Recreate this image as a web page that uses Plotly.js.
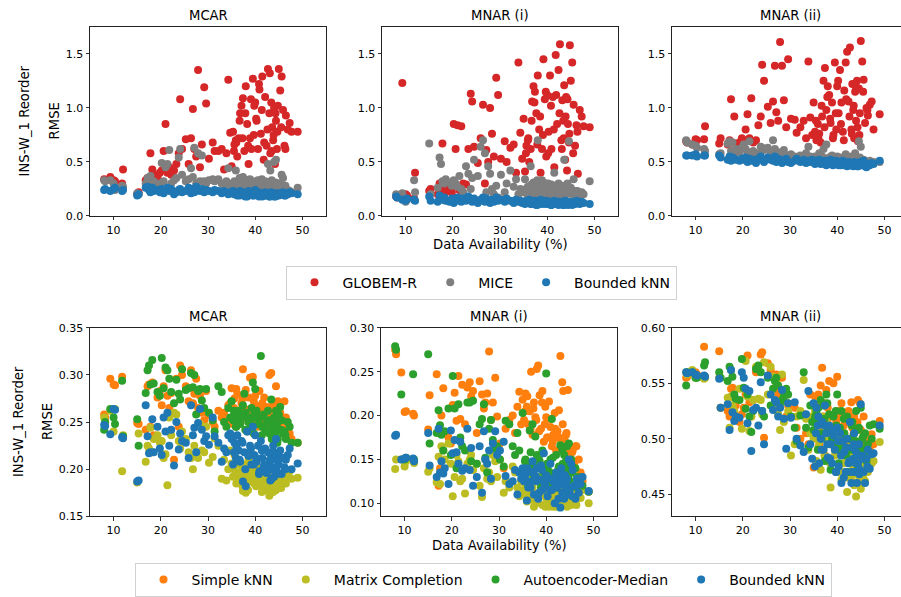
<!DOCTYPE html>
<html>
<head>
<meta charset="utf-8">
<script src="https://cdn.plot.ly/plotly-3.0.1.min.js"></script>
<style>
html,body{margin:0;padding:0;overflow:hidden;background:#fff;}
#chart{width:920px;height:597px;}
</style>
</head>
<body>
<div id="chart"></div>
<script>
// ---------- DATA ----------
const avail = [
  8.0, 8.2, 9.3, 10.0, 10.3, 11.8, 12.0,
  15.0, 15.3, 16.8, 17.2, 17.5, 17.8, 18.2, 18.5, 19.3, 19.8,
  20.2, 20.6, 21.0, 21.4, 21.8, 22.2, 22.8, 23.3, 23.8, 24.1, 24.5,
  25.3, 25.9, 26.4, 26.8, 27.1, 27.5, 27.9, 28.3, 28.7, 29.2, 29.6,
  30.2, 31.0, 31.4, 32.2, 32.9, 33.4, 33.9, 34.3, 34.7,
  35.0, 35.3, 35.6, 35.9, 36.2, 36.5, 36.8, 37.1, 37.4, 37.7, 38.0, 38.3, 38.6, 38.9, 39.2, 39.5, 39.8,
  40.0, 40.3, 40.6, 40.9, 41.2, 41.5, 41.8, 42.1, 42.4, 42.7, 43.0, 43.2, 43.4, 43.6, 43.8, 44.0, 44.2, 44.4, 44.6, 44.8,
  45.0, 45.3, 45.6, 45.9, 46.2, 46.5, 46.9, 47.3, 47.7, 49.0,
  35.5, 36.0, 36.7, 37.3, 37.9, 38.5, 39.1, 39.7, 40.2, 40.8, 41.4, 41.9, 42.6, 43.1, 43.5, 43.9, 44.3, 44.7, 45.5, 46.4
];

const panelTitles = ["MCAR", "MNAR (i)", "MNAR (ii)"];
const topMethods = ["GLOBEM-R", "MICE", "Bounded kNN"];
const botMethods = ["Simple kNN", "Matrix Completion", "Autoencoder-Median", "Bounded kNN"];

// Top row: MCAR
const topMcarGlobem = [
  0.34, 0.33, 0.36, 0.33, 0.32, 0.30, 0.43,
  0.20, 0.22, 0.33, 0.35, 0.30, 0.58, 0.43, 0.38, 0.36, 0.40,
  0.42, 0.60, 0.85, 0.40, 0.45, 0.38, 0.42, 0.48, 0.58, 1.08, 0.62,
  0.71, 0.48, 0.72, 0.99, 0.62, 0.55, 1.35, 0.45, 0.66, 1.19, 1.04,
  0.53, 0.68, 0.60, 0.60, 0.62, 0.43, 0.58, 1.26, 0.77,
  0.46, 0.78, 0.66, 0.70, 0.55, 0.72, 0.95, 1.02, 1.09, 0.60, 1.20, 0.85, 0.48, 0.72, 0.62, 1.27, 1.02,
  1.05, 0.88, 0.62, 1.17, 0.76, 1.29, 0.52, 1.10, 0.65, 1.36, 0.95, 0.58, 1.05, 0.82, 0.70, 1.00, 0.48, 0.88, 0.62, 1.02,
  1.36, 1.16, 1.29, 0.98, 0.65, 0.93, 0.80, 0.86, 0.78, 0.78,
  0.60, 0.68, 0.88, 0.72, 0.95, 0.65, 1.08, 0.75, 0.90, 1.22, 0.98, 0.68, 0.80, 1.32, 0.60, 0.75, 0.95, 0.78, 0.82, 0.62
];
const topMcarMice = [
  0.33, 0.32, 0.33, 0.30, 0.24, 0.28, 0.27,
  0.21, 0.20, 0.30, 0.35, 0.30, 0.37, 0.28, 0.32, 0.28, 0.30,
  0.49, 0.32, 0.45, 0.48, 0.61, 0.30, 0.33, 0.35, 0.54, 0.62, 0.38,
  0.32, 0.34, 0.44, 0.36, 0.63, 0.30, 0.58, 0.32, 0.56, 0.32, 0.30,
  0.33, 0.34, 0.32, 0.34, 0.30, 0.28, 0.32, 0.44, 0.29,
  0.27, 0.30, 0.32, 0.42, 0.28, 0.31, 0.26, 0.33, 0.36, 0.29, 0.33, 0.27, 0.30, 0.34, 0.28, 0.31, 0.27,
  0.30, 0.26, 0.33, 0.28, 0.31, 0.27, 0.29, 0.32, 0.26, 0.48, 0.29, 0.42, 0.27, 0.31, 0.26, 0.50, 0.29, 0.52, 0.27, 0.30,
  0.26, 0.30, 0.38, 0.35, 0.27, 0.25, 0.24, 0.23, 0.22, 0.26,
  0.31, 0.28, 0.35, 0.30, 0.27, 0.33, 0.29, 0.26, 0.32, 0.28, 0.34, 0.27, 0.30, 0.28, 0.33, 0.27, 0.31, 0.29, 0.26, 0.28
];
const topMcarBknn = [
  0.24, 0.25, 0.23, 0.25, 0.26, 0.23, 0.24,
  0.19, 0.20, 0.26, 0.27, 0.24, 0.22, 0.26, 0.23, 0.24, 0.22,
  0.25, 0.21, 0.24, 0.26, 0.23, 0.25, 0.20, 0.22, 0.24, 0.25, 0.22,
  0.23, 0.26, 0.21, 0.25, 0.22, 0.27, 0.24, 0.23, 0.25, 0.22, 0.24,
  0.23, 0.22, 0.24, 0.23, 0.21, 0.23, 0.22, 0.20, 0.22,
  0.21, 0.23, 0.20, 0.22, 0.19, 0.21, 0.23, 0.20, 0.22, 0.19, 0.21, 0.18, 0.23, 0.20, 0.22, 0.19, 0.21,
  0.24, 0.20, 0.22, 0.19, 0.21, 0.18, 0.20, 0.22, 0.19, 0.21, 0.18, 0.20, 0.22, 0.19, 0.21, 0.18, 0.20, 0.19, 0.21, 0.20,
  0.19, 0.21, 0.20, 0.22, 0.19, 0.21, 0.20, 0.22, 0.21, 0.20,
  0.22, 0.20, 0.19, 0.21, 0.18, 0.20, 0.22, 0.19, 0.21, 0.18, 0.20, 0.19, 0.21, 0.18, 0.20, 0.19, 0.18, 0.20, 0.21, 0.19
];

// Top row: MNAR (i)
const topMnar1Globem = [
  0.18, 0.17, 1.23, 0.20, 0.19, 0.16, 0.40,
  0.23, 0.25, 0.20, 0.30, 0.25, 0.67, 0.28, 0.22, 0.25, 0.22,
  0.85, 0.62, 0.84, 0.24, 0.83, 0.30, 0.29, 0.62, 1.13, 1.06, 0.64,
  0.49, 0.72, 1.03, 0.30, 0.61, 0.50, 1.00, 0.76, 0.55, 1.28, 1.12,
  0.53, 0.69, 0.50, 0.63, 0.66, 0.40, 1.42, 0.77, 0.53,
  0.90, 0.41, 0.65, 0.70, 0.50, 0.62, 1.06, 1.20, 1.15, 0.95, 1.30, 0.80, 0.40, 0.62, 1.45, 1.08, 0.55,
  1.12, 0.78, 1.30, 0.62, 1.10, 0.45, 1.49, 0.85, 1.35, 1.59, 0.70, 1.07, 0.88, 1.21, 0.52, 1.10, 0.42, 0.85, 0.68, 1.58,
  1.25, 1.42, 1.03, 0.65, 0.84, 0.39, 0.98, 0.92, 0.83, 0.82,
  0.58, 0.72, 0.88, 1.05, 0.66, 0.92, 0.75, 1.15, 0.58, 1.02, 0.80, 1.12, 0.95, 0.62, 0.72, 0.92, 1.08, 0.76, 0.58, 0.78
];
const topMnar1Mice = [
  0.20, 0.18, 0.21, 0.13, 0.15, 0.33, 0.22,
  0.67, 0.20, 0.26, 0.54, 0.48, 0.32, 0.30, 0.34, 0.31, 0.28,
  0.33, 0.30, 0.27, 0.37, 0.25, 0.22, 0.46, 0.39, 0.25, 0.35, 0.52,
  0.37, 0.64, 0.70, 0.58, 0.22, 0.46, 0.39, 0.25, 0.20, 0.28, 0.17,
  0.38, 0.22, 0.30, 0.42, 0.27, 0.34, 0.20, 0.25, 0.24,
  0.22, 0.34, 0.21, 0.27, 0.19, 0.46, 0.24, 0.31, 0.20, 0.26, 0.70, 0.22, 0.28, 0.33, 0.19, 0.25, 0.30,
  0.22, 0.27, 0.20, 0.29, 0.24, 0.40, 0.21, 0.26, 0.30, 0.19, 0.23, 0.28, 0.22, 0.52, 0.25, 0.20, 0.27, 0.21, 0.69, 0.24,
  0.26, 0.20, 0.34, 0.23, 0.18, 0.21, 0.19, 0.22, 0.20, 0.32,
  0.25, 0.18, 0.29, 0.22, 0.33, 0.20, 0.27, 0.24, 0.30, 0.21, 0.26, 0.23, 0.28, 0.19, 0.25, 0.22, 0.30, 0.26, 0.20, 0.23
];
const topMnar1Bknn = [
  0.18, 0.17, 0.15, 0.14, 0.16, 0.15, 0.14,
  0.18, 0.14, 0.13, 0.19, 0.16, 0.15, 0.17, 0.14, 0.13, 0.16,
  0.12, 0.15, 0.17, 0.14, 0.13, 0.16, 0.14, 0.18, 0.15, 0.13, 0.16,
  0.12, 0.15, 0.17, 0.13, 0.16, 0.14, 0.12, 0.15, 0.13, 0.17, 0.14,
  0.15, 0.13, 0.16, 0.14, 0.12, 0.15, 0.13, 0.14, 0.12,
  0.13, 0.11, 0.14, 0.12, 0.15, 0.11, 0.13, 0.12, 0.14, 0.10, 0.13, 0.12, 0.15, 0.11, 0.13, 0.12, 0.14,
  0.12, 0.11, 0.13, 0.10, 0.12, 0.14, 0.11, 0.13, 0.10, 0.12, 0.11, 0.13, 0.10, 0.12, 0.14, 0.11, 0.12, 0.10, 0.13, 0.11,
  0.12, 0.10, 0.13, 0.11, 0.14, 0.12, 0.11, 0.13, 0.12, 0.11,
  0.12, 0.14, 0.11, 0.13, 0.10, 0.12, 0.14, 0.11, 0.13, 0.10, 0.12, 0.11, 0.13, 0.12, 0.10, 0.11, 0.13, 0.12, 0.11, 0.12
];

// Top row: MNAR (ii)
const topMnar2Globem = [
  0.69, 0.68, 0.66, 0.71, 0.70, 0.71, 0.83,
  0.67, 0.72, 0.66, 0.70, 1.08, 0.68, 0.92, 0.67, 0.68, 0.72,
  0.70, 0.80, 0.94, 0.72, 1.09, 0.68, 0.70, 0.84, 0.92, 1.40, 1.25,
  1.01, 0.86, 1.06, 1.39, 0.96, 0.88, 1.61, 1.39, 1.07, 0.82, 1.45,
  0.90, 0.89, 0.77, 0.82, 0.88, 0.72, 1.43, 0.91, 0.75,
  1.05, 0.78, 0.70, 0.85, 0.76, 0.68, 0.92, 1.25, 1.37, 0.98, 1.20, 1.12, 0.86, 1.05, 0.75, 1.42, 0.80,
  1.20, 0.95, 1.35, 1.05, 0.78, 1.16, 1.42, 1.52, 1.06, 1.56, 0.80, 1.22, 0.98, 0.72, 1.15, 0.88, 1.25, 0.69, 1.18, 0.95,
  1.62, 1.43, 1.26, 0.86, 1.00, 0.93, 1.03, 1.06, 0.80, 0.94,
  0.88, 0.72, 1.02, 0.82, 1.10, 0.90, 0.72, 0.95, 1.25, 0.85, 0.70, 1.08, 0.92, 0.76, 1.02, 1.20, 0.82, 0.75, 1.15, 0.98
];
const topMnar2Mice = [
  0.70, 0.68, 0.66, 0.65, 0.63, 0.62, 0.60,
  0.57, 0.58, 0.67, 0.69, 0.60, 0.68, 0.58, 0.62, 0.59, 0.63,
  0.66, 0.62, 0.59, 0.69, 0.57, 0.60, 0.55, 0.58, 0.64, 0.63, 0.61,
  0.63, 0.57, 0.70, 0.62, 0.56, 0.59, 0.55, 0.58, 0.61, 0.56, 0.54,
  0.57, 0.55, 0.53, 0.56, 0.52, 0.58, 0.64, 0.55, 0.53,
  0.52, 0.55, 0.50, 0.54, 0.58, 0.51, 0.55, 0.62, 0.53, 0.66, 0.50, 0.54, 0.52, 0.56, 0.51, 0.53, 0.50,
  0.55, 0.49, 0.52, 0.54, 0.50, 0.53, 0.57, 0.49, 0.52, 0.51, 0.55, 0.48, 0.53, 0.50, 0.58, 0.49, 0.52, 0.50, 0.69, 0.54,
  0.64, 0.49, 0.52, 0.47, 0.50, 0.48, 0.51, 0.49, 0.50, 0.50,
  0.53, 0.51, 0.55, 0.50, 0.52, 0.54, 0.49, 0.51, 0.53, 0.50, 0.52, 0.49, 0.51, 0.48, 0.53, 0.50, 0.52, 0.48, 0.50, 0.49
];
const topMnar2Bknn = [
  0.56, 0.56, 0.56, 0.57, 0.55, 0.56, 0.56,
  0.56, 0.54, 0.52, 0.55, 0.51, 0.54, 0.53, 0.52, 0.51, 0.53,
  0.52, 0.54, 0.50, 0.53, 0.51, 0.52, 0.49, 0.53, 0.55, 0.52, 0.50,
  0.54, 0.52, 0.51, 0.55, 0.50, 0.53, 0.52, 0.49, 0.51, 0.53, 0.50,
  0.49, 0.51, 0.53, 0.50, 0.52, 0.49, 0.51, 0.50, 0.52,
  0.50, 0.48, 0.51, 0.49, 0.52, 0.48, 0.50, 0.49, 0.51, 0.47, 0.50, 0.48, 0.52, 0.49, 0.50, 0.48, 0.51,
  0.49, 0.47, 0.50, 0.48, 0.51, 0.47, 0.49, 0.46, 0.50, 0.48, 0.47, 0.49, 0.46, 0.50, 0.48, 0.47, 0.49, 0.46, 0.48, 0.50,
  0.47, 0.49, 0.51, 0.46, 0.45, 0.48, 0.47, 0.49, 0.48, 0.51,
  0.50, 0.49, 0.51, 0.48, 0.50, 0.49, 0.47, 0.50, 0.48, 0.47, 0.49, 0.48, 0.47, 0.49, 0.47, 0.48, 0.46, 0.49, 0.47, 0.48
];

// Bottom row: MCAR
const botMcarSimple = [
  0.258, 0.255, 0.296, 0.290, 0.289, 0.298, 0.234,
  0.249, 0.248, 0.242, 0.288, 0.290, 0.245, 0.292, 0.236, 0.276, 0.283,
  0.268, 0.288, 0.305, 0.278, 0.265, 0.281, 0.210, 0.296, 0.245, 0.310, 0.300,
  0.288, 0.272, 0.305, 0.270, 0.280, 0.296, 0.265, 0.278, 0.260, 0.252, 0.283,
  0.257, 0.250, 0.245, 0.262, 0.255, 0.260, 0.252, 0.268, 0.270,
  0.286, 0.248, 0.275, 0.258, 0.280, 0.262, 0.250, 0.270, 0.306, 0.255, 0.284, 0.263, 0.276, 0.297, 0.260, 0.298, 0.252,
  0.278, 0.267, 0.255, 0.283, 0.262, 0.270, 0.250, 0.258, 0.266, 0.245, 0.300, 0.255, 0.302, 0.268, 0.250, 0.262, 0.243, 0.288, 0.255, 0.272,
  0.244, 0.260, 0.250, 0.242, 0.272, 0.255, 0.246, 0.238, 0.232, 0.228,
  0.265, 0.285, 0.252, 0.275, 0.262, 0.258, 0.248, 0.272, 0.255, 0.245, 0.262, 0.276, 0.252, 0.240, 0.258, 0.248, 0.265, 0.242, 0.255, 0.238
];
const botMcarMatrix = [
  0.255, 0.250, 0.262, 0.240, 0.264, 0.198, 0.236,
  0.186, 0.238, 0.208, 0.225, 0.222, 0.244, 0.218, 0.232, 0.236, 0.228,
  0.230, 0.212, 0.216, 0.183, 0.255, 0.236, 0.260, 0.258, 0.230, 0.222, 0.240,
  0.232, 0.218, 0.212, 0.200, 0.225, 0.215, 0.212, 0.248, 0.220, 0.218, 0.245,
  0.207, 0.213, 0.233, 0.225, 0.190, 0.210, 0.188, 0.200, 0.220,
  0.206, 0.192, 0.215, 0.195, 0.210, 0.190, 0.205, 0.198, 0.177, 0.205, 0.175, 0.195, 0.210, 0.187, 0.200, 0.192, 0.185,
  0.195, 0.203, 0.188, 0.200, 0.193, 0.182, 0.198, 0.178, 0.190, 0.185, 0.172, 0.195, 0.180, 0.188, 0.176, 0.198, 0.185, 0.178, 0.190, 0.182,
  0.192, 0.186, 0.195, 0.188, 0.190, 0.185, 0.192, 0.198, 0.190, 0.191,
  0.200, 0.185, 0.195, 0.182, 0.190, 0.178, 0.195, 0.188, 0.182, 0.192, 0.176, 0.186, 0.180, 0.174, 0.190, 0.182, 0.178, 0.186, 0.180, 0.188
];
const botMcarAutoenc = [
  0.242, 0.250, 0.264, 0.255, 0.248, 0.294, 0.235,
  0.253, 0.225, 0.281, 0.305, 0.310, 0.290, 0.316, 0.291, 0.282, 0.278,
  0.318, 0.286, 0.308, 0.305, 0.296, 0.282, 0.270, 0.295, 0.280, 0.274, 0.306,
  0.284, 0.286, 0.302, 0.287, 0.300, 0.258, 0.283, 0.285, 0.273, 0.265, 0.285,
  0.260, 0.252, 0.240, 0.288, 0.282, 0.250, 0.245, 0.265, 0.255,
  0.272, 0.252, 0.260, 0.245, 0.258, 0.262, 0.248, 0.255, 0.268, 0.280, 0.260, 0.240, 0.255, 0.250, 0.265, 0.292, 0.258,
  0.285, 0.262, 0.248, 0.255, 0.320, 0.245, 0.258, 0.242, 0.252, 0.262, 0.238, 0.250, 0.274, 0.245, 0.235, 0.255, 0.240, 0.262, 0.248, 0.232,
  0.258, 0.266, 0.252, 0.238, 0.240, 0.232, 0.250, 0.245, 0.228, 0.228,
  0.262, 0.245, 0.252, 0.258, 0.242, 0.250, 0.246, 0.238, 0.255, 0.248, 0.236, 0.245, 0.240, 0.252, 0.232, 0.244, 0.238, 0.228, 0.242, 0.236
];
const botMcarBknn = [
  0.247, 0.246, 0.237, 0.264, 0.263, 0.234, 0.233,
  0.187, 0.188, 0.268, 0.235, 0.217, 0.218, 0.253, 0.218, 0.245, 0.222,
  0.215, 0.255, 0.240, 0.260, 0.225, 0.242, 0.204, 0.250, 0.221, 0.238, 0.230,
  0.228, 0.212, 0.268, 0.236, 0.244, 0.218, 0.249, 0.264, 0.242, 0.230, 0.235,
  0.226, 0.255, 0.235, 0.228, 0.208, 0.222, 0.218, 0.236, 0.238,
  0.232, 0.205, 0.228, 0.212, 0.236, 0.220, 0.208, 0.230, 0.187, 0.218, 0.182, 0.240, 0.214, 0.225, 0.205, 0.245, 0.215,
  0.236, 0.208, 0.225, 0.198, 0.230, 0.212, 0.202, 0.222, 0.196, 0.218, 0.205, 0.188, 0.215, 0.200, 0.225, 0.192, 0.210, 0.232, 0.198, 0.215,
  0.205, 0.220, 0.195, 0.212, 0.202, 0.210, 0.215, 0.222, 0.200, 0.206,
  0.218, 0.225, 0.210, 0.228, 0.200, 0.215, 0.222, 0.205, 0.212, 0.195, 0.220, 0.205, 0.198, 0.210, 0.190, 0.218, 0.202, 0.195, 0.212, 0.200
];

// Bottom row: MNAR (i)
const botMnar1Simple = [
  0.275, 0.270, 0.249, 0.204, 0.205, 0.202, 0.200,
  0.184, 0.223, 0.247, 0.120, 0.140, 0.200, 0.231, 0.180, 0.175, 0.168,
  0.212, 0.226, 0.194, 0.245, 0.196, 0.235, 0.190, 0.232, 0.238, 0.222, 0.228,
  0.180, 0.239, 0.224, 0.208, 0.215, 0.225, 0.273, 0.195, 0.215, 0.243, 0.199,
  0.168, 0.140, 0.185, 0.195, 0.200, 0.180, 0.210, 0.227, 0.190,
  0.218, 0.195, 0.225, 0.210, 0.190, 0.205, 0.250, 0.178, 0.215, 0.198, 0.253, 0.257, 0.223, 0.185, 0.228, 0.170, 0.210,
  0.198, 0.175, 0.216, 0.187, 0.165, 0.178, 0.203, 0.160, 0.182, 0.206, 0.268, 0.170, 0.238, 0.228, 0.175, 0.160, 0.178, 0.158, 0.229, 0.165,
  0.165, 0.150, 0.160, 0.145, 0.165, 0.130, 0.150, 0.135, 0.125, 0.113,
  0.205, 0.222, 0.185, 0.208, 0.195, 0.182, 0.215, 0.190, 0.175, 0.196, 0.170, 0.185, 0.175, 0.162, 0.190, 0.172, 0.180, 0.165, 0.158, 0.165
];
const botMnar1Matrix = [
  0.139, 0.150, 0.150, 0.142, 0.148, 0.150, 0.146,
  0.136, 0.140, 0.124, 0.153, 0.122, 0.165, 0.160, 0.150, 0.168, 0.145,
  0.108, 0.130, 0.155, 0.148, 0.125, 0.128, 0.111, 0.145, 0.150, 0.155, 0.138,
  0.145, 0.120, 0.107, 0.140, 0.150, 0.128, 0.135, 0.125, 0.155, 0.148, 0.130,
  0.150, 0.112, 0.125, 0.118, 0.142, 0.135, 0.118, 0.108, 0.125,
  0.130, 0.115, 0.120, 0.102, 0.112, 0.128, 0.108, 0.118, 0.096, 0.125, 0.105, 0.130, 0.110, 0.120, 0.098, 0.115, 0.096,
  0.106, 0.118, 0.096, 0.125, 0.102, 0.110, 0.120, 0.096, 0.108, 0.115, 0.098, 0.112, 0.103, 0.120, 0.098, 0.108, 0.102, 0.096, 0.112, 0.105,
  0.110, 0.098, 0.115, 0.104, 0.120, 0.108, 0.112, 0.106, 0.115, 0.100,
  0.110, 0.118, 0.104, 0.112, 0.100, 0.108, 0.115, 0.098, 0.110, 0.104, 0.096, 0.106, 0.112, 0.100, 0.104, 0.098, 0.108, 0.102, 0.110, 0.098
];
const botMnar1Autoenc = [
  0.279, 0.275, 0.224, 0.150, 0.152, 0.247, 0.150,
  0.270, 0.168, 0.180, 0.206, 0.189, 0.178, 0.160, 0.182, 0.208, 0.155,
  0.245, 0.208, 0.140, 0.213, 0.175, 0.165, 0.160, 0.215, 0.215, 0.148, 0.217,
  0.145, 0.190, 0.196, 0.213, 0.152, 0.135, 0.185, 0.195, 0.172, 0.162, 0.165,
  0.150, 0.142, 0.194, 0.190, 0.165, 0.155, 0.180, 0.160, 0.135,
  0.203, 0.128, 0.150, 0.140, 0.120, 0.183, 0.145, 0.190, 0.132, 0.176, 0.155, 0.125, 0.148, 0.118, 0.160, 0.135, 0.128,
  0.248, 0.140, 0.120, 0.150, 0.196, 0.132, 0.125, 0.155, 0.118, 0.142, 0.166, 0.130, 0.160, 0.122, 0.155, 0.135, 0.148, 0.165, 0.140, 0.168,
  0.125, 0.150, 0.135, 0.120, 0.140, 0.118, 0.130, 0.122, 0.120, 0.113,
  0.148, 0.135, 0.158, 0.142, 0.130, 0.150, 0.138, 0.128, 0.145, 0.135, 0.152, 0.128, 0.140, 0.132, 0.145, 0.125, 0.138, 0.130, 0.142, 0.120
];
const botMnar1Bknn = [
  0.177, 0.178, 0.150, 0.151, 0.152, 0.151, 0.148,
  0.180, 0.143, 0.130, 0.185, 0.135, 0.148, 0.134, 0.140, 0.122, 0.183,
  0.157, 0.172, 0.158, 0.145, 0.170, 0.137, 0.140, 0.185, 0.138, 0.163, 0.120,
  0.130, 0.165, 0.112, 0.182, 0.150, 0.145, 0.160, 0.128, 0.168, 0.182, 0.155,
  0.160, 0.170, 0.131, 0.122, 0.125, 0.138, 0.110, 0.135, 0.128,
  0.140, 0.125, 0.133, 0.103, 0.118, 0.136, 0.125, 0.148, 0.110, 0.131, 0.140, 0.105, 0.127, 0.143, 0.115, 0.157, 0.120,
  0.132, 0.108, 0.128, 0.145, 0.115, 0.125, 0.100, 0.135, 0.118, 0.128, 0.095, 0.140, 0.112, 0.125, 0.105, 0.132, 0.118, 0.128, 0.110, 0.150,
  0.115, 0.145, 0.138, 0.120, 0.105, 0.128, 0.112, 0.122, 0.130, 0.114,
  0.128, 0.140, 0.118, 0.135, 0.125, 0.112, 0.138, 0.122, 0.130, 0.115, 0.128, 0.118, 0.105, 0.122, 0.132, 0.110, 0.125, 0.118, 0.108, 0.120
];

// Bottom row: MNAR (ii)
const botMnar2Simple = [
  0.555, 0.556, 0.559, 0.560, 0.558, 0.583, 0.556,
  0.579, 0.528, 0.525, 0.520, 0.545, 0.546, 0.537, 0.530, 0.515, 0.522,
  0.528, 0.540, 0.575, 0.533, 0.520, 0.535, 0.560, 0.562, 0.576, 0.578, 0.501,
  0.568, 0.562, 0.528, 0.545, 0.558, 0.540, 0.532, 0.555, 0.535, 0.520, 0.530,
  0.530, 0.528, 0.510, 0.500, 0.522, 0.505, 0.495, 0.540, 0.518,
  0.474, 0.538, 0.530, 0.510, 0.495, 0.548, 0.564, 0.520, 0.485, 0.544, 0.528, 0.552, 0.505, 0.520, 0.550, 0.490, 0.515,
  0.556, 0.500, 0.520, 0.532, 0.485, 0.505, 0.515, 0.470, 0.525, 0.495, 0.533, 0.510, 0.480, 0.520, 0.498, 0.485, 0.512, 0.535, 0.490, 0.532,
  0.508, 0.495, 0.520, 0.482, 0.500, 0.475, 0.490, 0.504, 0.495, 0.516,
  0.528, 0.540, 0.505, 0.532, 0.515, 0.498, 0.520, 0.508, 0.525, 0.490, 0.512, 0.498, 0.520, 0.488, 0.505, 0.495, 0.515, 0.480, 0.500, 0.492
];
const botMnar2Matrix = [
  0.560, 0.558, 0.562, 0.555, 0.557, 0.554, 0.555,
  0.555, 0.528, 0.537, 0.510, 0.538, 0.530, 0.525, 0.520, 0.545, 0.509,
  0.545, 0.570, 0.538, 0.507, 0.520, 0.535, 0.565, 0.536, 0.535, 0.522, 0.569,
  0.540, 0.565, 0.556, 0.530, 0.550, 0.522, 0.508, 0.558, 0.515, 0.533, 0.525,
  0.485, 0.495, 0.520, 0.525, 0.553, 0.518, 0.490, 0.505, 0.520,
  0.500, 0.525, 0.480, 0.512, 0.498, 0.472, 0.520, 0.490, 0.505, 0.515, 0.482, 0.508, 0.456, 0.495, 0.510, 0.485, 0.500,
  0.490, 0.475, 0.505, 0.463, 0.492, 0.470, 0.500, 0.452, 0.488, 0.478, 0.465, 0.495, 0.472, 0.458, 0.485, 0.448, 0.480, 0.470, 0.462, 0.478,
  0.455, 0.490, 0.474, 0.462, 0.485, 0.470, 0.483, 0.478, 0.480, 0.497,
  0.508, 0.492, 0.515, 0.485, 0.498, 0.478, 0.502, 0.488, 0.470, 0.495, 0.478, 0.465, 0.485, 0.470, 0.460, 0.482, 0.468, 0.475, 0.465, 0.480
];
const botMnar2Autoenc = [
  0.548, 0.560, 0.560, 0.555, 0.555, 0.566, 0.569,
  0.560, 0.555, 0.552, 0.565, 0.562, 0.556, 0.540, 0.536, 0.535, 0.572,
  0.546, 0.527, 0.540, 0.520, 0.506, 0.525, 0.563, 0.566, 0.560, 0.525, 0.520,
  0.555, 0.530, 0.545, 0.552, 0.555, 0.548, 0.532, 0.535, 0.538, 0.545, 0.540,
  0.520, 0.510, 0.498, 0.521, 0.560, 0.510, 0.492, 0.530, 0.515,
  0.508, 0.520, 0.525, 0.490, 0.515, 0.535, 0.505, 0.530, 0.480, 0.540, 0.510, 0.522, 0.472, 0.500, 0.520, 0.495, 0.512,
  0.540, 0.478, 0.510, 0.525, 0.495, 0.505, 0.485, 0.520, 0.470, 0.500, 0.490, 0.515, 0.480, 0.505, 0.498, 0.525, 0.488, 0.475, 0.510, 0.495,
  0.528, 0.500, 0.490, 0.505, 0.480, 0.495, 0.512, 0.500, 0.513, 0.509,
  0.515, 0.528, 0.500, 0.518, 0.532, 0.495, 0.510, 0.525, 0.490, 0.505, 0.518, 0.485, 0.500, 0.512, 0.480, 0.495, 0.508, 0.490, 0.502, 0.488
];
const botMnar2Bknn = [
  0.560, 0.559, 0.560, 0.558, 0.557, 0.557, 0.556,
  0.554, 0.528, 0.531, 0.508, 0.562, 0.524, 0.516, 0.520, 0.519, 0.560,
  0.555, 0.545, 0.514, 0.543, 0.489, 0.526, 0.528, 0.512, 0.551, 0.525, 0.495,
  0.557, 0.540, 0.526, 0.535, 0.533, 0.520, 0.528, 0.544, 0.518, 0.491, 0.532,
  0.519, 0.533, 0.500, 0.494, 0.488, 0.522, 0.543, 0.495, 0.482,
  0.532, 0.475, 0.528, 0.512, 0.478, 0.500, 0.515, 0.490, 0.530, 0.505, 0.483, 0.512, 0.495, 0.478, 0.503, 0.490, 0.470,
  0.510, 0.475, 0.505, 0.460, 0.498, 0.488, 0.470, 0.500, 0.478, 0.515, 0.460, 0.492, 0.482, 0.505, 0.470, 0.488, 0.460, 0.478, 0.495, 0.472,
  0.531, 0.485, 0.470, 0.460, 0.482, 0.490, 0.473, 0.486, 0.487, 0.512,
  0.505, 0.520, 0.490, 0.512, 0.495, 0.482, 0.508, 0.470, 0.498, 0.485, 0.465, 0.492, 0.480, 0.470, 0.495, 0.478, 0.485, 0.468, 0.482, 0.475
];

const xTicks = [10, 20, 30, 40, 50];

// ---------- STYLE / LAYOUT ----------
const W = 920, H = 597;
const FONT = "DejaVu Sans, Arial, sans-serif";
const TICK_FS = 11, LABEL_FS = 13.2;
const topColors = ["#d62728", "#7f7f7f", "#1f77b4"];
const botColors = ["#ff7f0e", "#bcbd22", "#2ca02c", "#1f77b4"];

const topSeries = [
  [topMcarGlobem, topMcarMice, topMcarBknn],
  [topMnar1Globem, topMnar1Mice, topMnar1Bknn],
  [topMnar2Globem, topMnar2Mice, topMnar2Bknn]
];
const botSeries = [
  [botMcarSimple, botMcarMatrix, botMcarAutoenc, botMcarBknn],
  [botMnar1Simple, botMnar1Matrix, botMnar1Autoenc, botMnar1Bknn],
  [botMnar2Simple, botMnar2Matrix, botMnar2Autoenc, botMnar2Bknn]
];

const colPx = [[90, 326], [382, 618], [672, 908]];
const colPxBot = [[90, 326], [381, 617], [672, 908]];
const rowPx = [[27, 217], [329.5, 519]];
const yRanges = [[0, 1.75], [0, 1.75], [0, 1.75], [0.15, 0.35], [0.085, 0.30], [0.43, 0.60]];
const yTickVals = [
  [0, 0.5, 1.0, 1.5], [0, 0.5, 1.0, 1.5], [0, 0.5, 1.0, 1.5],
  [0.15, 0.20, 0.25, 0.30, 0.35], [0.10, 0.15, 0.20, 0.25, 0.30], [0.45, 0.50, 0.55, 0.60]
];
const yFmt = [".1f", ".1f", ".1f", ".2f", ".2f", ".2f"];

const traces = [];
const MS = 8;
for (let c = 0; c < 3; c++) {
  const ax = c + 1;
  topSeries[c].forEach((ys, k) => {
    traces.push({
      type: "scatter", mode: "markers", x: avail, y: ys,
      xaxis: "x" + (ax === 1 ? "" : ax), yaxis: "y" + (ax === 1 ? "" : ax),
      name: topMethods[k], legend: "legend", showlegend: c === 0,
      marker: {color: topColors[k], size: MS, line: {width: 0}},
      hoverinfo: "skip"
    });
  });
}
for (let c = 0; c < 3; c++) {
  const ax = c + 4;
  botSeries[c].forEach((ys, k) => {
    traces.push({
      type: "scatter", mode: "markers", x: avail, y: ys,
      xaxis: "x" + ax, yaxis: "y" + ax,
      name: botMethods[k], legend: "legend2", showlegend: c === 0,
      marker: {color: botColors[k], size: MS, line: {width: 0}},
      hoverinfo: "skip"
    });
  });
}

const legendCommon = {
  orientation: "h", xanchor: "center", yanchor: "middle",
  bordercolor: "#d0d0d0", borderwidth: 1, font: {size: 14, family: FONT, color: "#000"},
  itemsizing: "trace", itemwidth: 46, tracegroupgap: 0
};
const layout = {
  width: W, height: H,
  margin: {l: 0, r: 0, t: 0, b: 0},
  paper_bgcolor: "#fff", plot_bgcolor: "#fff",
  font: {family: FONT, size: TICK_FS, color: "#000"},
  legend: Object.assign({}, legendCommon, {x: 481 / W, y: 1 - 284 / H}),
  legend2: Object.assign({}, legendCommon, {x: 483 / W, y: 1 - 583 / H}),
  annotations: []
};

for (let i = 0; i < 6; i++) {
  const row = i < 3 ? 0 : 1;
  const col = i % 3;
  const cp = row === 0 ? colPx[col] : colPxBot[col];
  const rp = rowPx[row];
  const suf = i === 0 ? "" : String(i + 1);
  layout["xaxis" + suf] = {
    domain: [cp[0] / W, cp[1] / W], anchor: "y" + suf,
    range: [5, 55], tickvals: xTicks, ticks: "outside", ticklen: 3.5, tickwidth: 0.8,
    tickcolor: "#000", showgrid: false, zeroline: false,
    showline: true, mirror: true, linecolor: "#222", linewidth: 1,
    tickfont: {size: TICK_FS, family: FONT, color: "#000"}
  };
  layout["yaxis" + suf] = {
    domain: [1 - rp[1] / H, 1 - rp[0] / H], anchor: "x" + suf,
    range: yRanges[i], tickvals: yTickVals[i], tickformat: yFmt[i],
    ticks: "outside", ticklen: 3.5, tickwidth: 0.8, tickcolor: "#000",
    showgrid: false, zeroline: false,
    showline: true, mirror: true, linecolor: "#222", linewidth: 1,
    tickfont: {size: TICK_FS, family: FONT, color: "#000"}
  };
  layout.annotations.push({
    text: panelTitles[col], xref: "paper", yref: "paper",
    x: (cp[0] + cp[1]) / 2 / W, y: 1 - (rp[0] - 11) / H,
    xanchor: "center", yanchor: "middle", showarrow: false,
    font: {size: LABEL_FS, family: FONT, color: "#000"}
  });
}

const rowLabelX = [[24, 54], [18, 47]];
for (let r = 0; r < 2; r++) {
  const cy = (rowPx[r][0] + rowPx[r][1]) / 2;
  layout.annotations.push({
    text: "INS-W_1 Reorder", xref: "paper", yref: "paper",
    x: rowLabelX[r][0] / W, y: 1 - cy / H, xanchor: "center", yanchor: "middle",
    textangle: -90, showarrow: false, font: {size: LABEL_FS, family: FONT, color: "#000"}
  });
  layout.annotations.push({
    text: "RMSE", xref: "paper", yref: "paper",
    x: rowLabelX[r][1] / W, y: 1 - cy / H, xanchor: "center", yanchor: "middle",
    textangle: -90, showarrow: false, font: {size: LABEL_FS, family: FONT, color: "#000"}
  });
}
layout.annotations.push({
  text: "Data Availability (%)", xref: "paper", yref: "paper",
  x: 500 / W, y: 1 - 245.5 / H, xanchor: "center", yanchor: "middle", borderpad: 0,
  showarrow: false, font: {size: LABEL_FS, family: FONT, color: "#000"}
});
layout.annotations.push({
  text: "Data Availability (%)", xref: "paper", yref: "paper",
  x: 499 / W, y: 1 - 548 / H, xanchor: "center", yanchor: "middle", borderpad: 0,
  showarrow: false, font: {size: LABEL_FS, family: FONT, color: "#000"}
});

Plotly.newPlot("chart", traces, layout, {displayModeBar: false, staticPlot: true});
</script>
</body>
</html>
